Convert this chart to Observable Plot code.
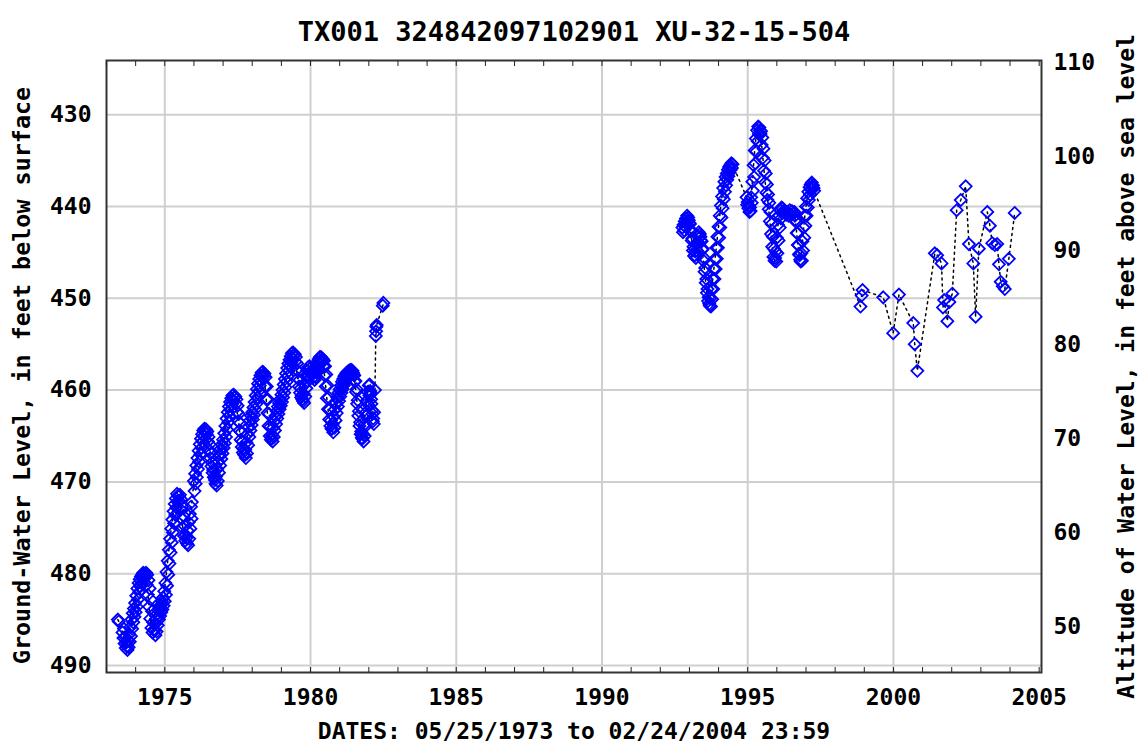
<!DOCTYPE html>
<html><head><meta charset="utf-8">
<script src="https://cdn.jsdelivr.net/npm/d3@7"></script>
<script src="https://cdn.jsdelivr.net/npm/@observablehq/plot@0.6"></script>
<style>
body{margin:0;background:#fff;}
#chart svg{display:block;}
</style></head><body><div id="chart"></div>
<script>
const titleText = "TX001 324842097102901 XU-32-15-504";
const captionText = "DATES: 05/25/1973 to 02/24/2004 23:59";
const leftLabel = "Ground-Water Level, in feet below surface";
const rightLabel = "Altitude of Water Level, in feet above sea level";
const depthTicks = [430, 440, 450, 460, 470, 480, 490];
const altitudeTicks = [50, 60, 70, 80, 90, 100, 110];
const yearLabels = [1975, 1980, 1985, 1990, 1995, 2000, 2005];
const yearGrid = [1975, 1980, 1985, 1990, 1995, 2000];
const minorYears = [1973,1974,1975,1976,1977,1978,1979,1980,1981,1982,1983,1984,1985,1986,1987,1988,1989,1990,1991,1992,1993,1994,1995,1996,1997,1998,1999,2000,2001,2002,2003,2004,2005];
// relation between the right (altitude) axis and the left (depth) axis
const altitudeRef = 110, depthAtAltitudeRef = 424.3, depthPerAltitudeFoot = 1.024;

// [decimal year, depth below surface (ft)] - main readings (joined by the dotted line)
const early = [
[1973.39,485.0],[1973.42,485.2],
[1973.55,486.4],[1973.58,487.0],[1973.62,487.6],[1973.66,488.1],[1973.70,487.9],[1973.74,487.3],[1973.78,486.6],[1973.82,485.8],[1973.86,485.0],[1973.90,484.3],[1973.94,483.8],[1973.98,483.2],
[1974.02,482.4],[1974.06,481.6],[1974.10,481.0],[1974.14,480.6],[1974.18,480.3],[1974.22,480.1],[1974.26,479.9],[1974.30,480.0],[1974.34,480.4],[1974.38,481.2],[1974.42,482.3],[1974.46,483.6],[1974.50,484.9],[1974.54,485.9],[1974.58,486.4],[1974.62,486.1],[1974.66,485.5],[1974.70,484.9],[1974.74,484.4],[1974.78,484.0],[1974.82,483.7],[1974.86,483.4],[1974.90,483.0],[1974.94,482.6],[1974.98,481.9],
[1975.02,481.0],[1975.06,479.8],[1975.10,478.6],[1975.14,477.4],[1975.18,476.2],[1975.22,475.1],[1975.26,474.1],[1975.30,473.2],[1975.34,472.4],[1975.38,471.8],[1975.42,471.3],[1975.46,471.5],[1975.50,472.1],[1975.54,473.0],[1975.58,474.0],[1975.62,475.0],[1975.66,475.9],[1975.70,476.4],[1975.74,476.1],[1975.78,475.3],[1975.82,474.4],[1975.86,473.5],[1975.90,472.7],[1975.93,472.2],
[1976.00,469.9],[1976.04,469.1],[1976.08,468.2],[1976.12,467.4],[1976.16,466.6],[1976.20,465.9],[1976.24,465.3],[1976.28,464.8],[1976.32,464.4],[1976.36,464.2],[1976.40,464.3],[1976.44,464.8],[1976.48,465.6],[1976.52,466.5],[1976.56,467.4],[1976.60,468.3],[1976.64,469.0],[1976.68,469.5],[1976.72,469.8],[1976.76,469.4],[1976.80,468.6],[1976.84,467.8],[1976.88,467.0],[1976.92,466.4],[1976.96,465.9],
[1977.00,465.4],[1977.04,464.7],[1977.08,463.9],[1977.12,463.1],[1977.16,462.4],[1977.20,461.8],[1977.24,461.3],[1977.28,460.9],[1977.32,460.6],[1977.36,460.5],[1977.40,460.8],[1977.44,461.5],[1977.48,462.4],[1977.52,463.4],[1977.56,464.4],[1977.60,465.4],[1977.64,466.2],[1977.68,466.8],[1977.72,467.0],[1977.76,466.5],[1977.80,465.7],[1977.84,464.8],[1977.88,464.0],[1977.92,463.3],[1977.96,462.8],
[1978.00,462.4],[1978.04,461.9],[1978.08,461.3],[1978.12,460.6],[1978.16,459.9],[1978.20,459.3],[1978.24,458.8],[1978.28,458.4],[1978.32,458.1],[1978.36,458.0],[1978.40,458.5],[1978.44,459.6],[1978.48,461.0],[1978.52,462.5],[1978.56,463.9],[1978.60,465.0],[1978.64,465.4],[1978.68,464.9],[1978.72,464.1],[1978.76,463.4],[1978.80,462.8],[1978.84,462.3],[1978.88,461.8],[1978.92,461.4],[1978.96,461.0],
[1979.00,460.5],[1979.04,460.0],[1979.08,459.4],[1979.12,458.8],[1979.16,458.2],[1979.20,457.6],[1979.24,457.1],[1979.28,456.7],[1979.32,456.3],[1979.36,456.0],[1979.40,455.9],[1979.44,456.2],[1979.48,456.9],[1979.52,457.8],[1979.56,458.7],[1979.60,459.6],[1979.64,460.3],[1979.68,460.8],[1979.72,461.0],[1979.76,460.4],[1979.80,459.4],[1979.84,458.5],[1979.88,457.9],[1979.92,457.5],[1979.96,457.4],
[1980.00,457.6],[1980.04,457.9],[1980.08,458.2],[1980.12,458.1],[1980.16,457.7],[1980.20,457.3],[1980.24,456.9],[1980.28,456.6],[1980.32,456.4],[1980.36,456.4],[1980.40,456.7],[1980.44,457.4],[1980.48,458.4],[1980.52,459.6],[1980.56,460.9],[1980.60,462.1],[1980.64,463.2],[1980.68,463.9],[1980.72,464.2],[1980.76,463.7],[1980.80,462.9],[1980.84,462.1],[1980.88,461.4],[1980.92,460.8],[1980.96,460.3],
[1981.00,459.9],[1981.04,459.5],[1981.08,459.1],[1981.12,458.8],[1981.16,458.5],[1981.20,458.3],[1981.24,458.1],[1981.28,458.0],[1981.32,457.9],[1981.36,457.8],[1981.40,457.8],[1981.44,457.9],[1981.48,458.3],[1981.52,459.1],[1981.56,460.2],[1981.60,461.5],[1981.64,462.8],[1981.68,463.9],[1981.72,464.8],[1981.76,465.2],[1981.80,464.8],[1981.84,463.8],[1981.88,462.5],[1981.92,461.2],[1981.96,460.2],
[1982.00,459.5],[1982.03,459.4],[1982.06,460.3],[1982.09,461.5],[1982.12,462.6],[1982.15,463.1],[1982.18,462.4],[1982.21,460.0],
[1982.24,454.1],[1982.25,453.6],[1982.26,453.1],[1982.27,452.9],
[1982.48,450.8],[1982.50,450.5]
];

// extra readings within the dense periods (pumping-affected values)
const earlyExtra = [
[1973.60,486.0],[1973.64,486.9],[1973.68,487.5],[1973.72,488.3],[1973.76,488.0],[1973.80,487.4],[1973.84,486.8],[1973.88,486.0],[1973.92,485.3],[1973.96,484.7],[1974.00,484.2],
[1974.04,483.6],[1974.08,482.8],[1974.12,482.0],[1974.16,481.4],[1974.20,481.0],[1974.24,480.6],[1974.28,480.4],[1974.32,480.2],[1974.36,479.9],[1974.40,480.1],[1974.44,480.7],[1974.48,481.6],[1974.52,482.8],[1974.56,484.1],[1974.60,485.3],[1974.64,486.2],[1974.68,486.7],[1974.72,486.3],[1974.76,485.6],[1974.80,485.0],[1974.84,484.6],[1974.88,484.2],[1974.92,483.9],[1974.96,483.5],
[1975.00,483.0],[1975.04,482.3],[1975.08,481.3],[1975.12,480.1],[1975.16,478.9],[1975.20,477.7],[1975.24,476.6],[1975.28,475.5],[1975.32,474.5],[1975.36,473.6],[1975.40,472.8],[1975.44,472.2],[1975.48,471.6],[1975.52,471.4],[1975.56,471.9],[1975.60,472.7],[1975.64,473.7],[1975.68,474.8],[1975.72,475.8],[1975.76,476.7],[1975.80,476.9],[1975.84,476.2],[1975.88,475.1],[1975.92,474.0],
[1976.02,471.0],[1976.06,470.2],[1976.10,469.5],[1976.14,468.6],[1976.18,467.8],[1976.22,467.0],[1976.26,466.3],[1976.30,465.6],[1976.34,465.0],[1976.38,464.6],[1976.42,464.3],[1976.46,464.5],[1976.50,465.1],[1976.54,465.9],[1976.58,466.9],[1976.62,467.9],[1976.66,468.7],[1976.70,469.5],[1976.74,470.2],[1976.78,470.4],[1976.82,469.9],[1976.86,469.0],[1976.90,468.2],[1976.94,467.5],[1976.98,466.9],
[1977.02,466.3],[1977.06,465.8],[1977.10,465.1],[1977.14,464.3],[1977.18,463.5],[1977.22,462.8],[1977.26,462.2],[1977.30,461.6],[1977.34,461.2],[1977.38,460.8],[1977.42,460.7],[1977.46,461.0],[1977.50,461.7],[1977.54,462.6],[1977.58,463.6],[1977.62,464.6],[1977.66,465.6],[1977.70,466.4],[1977.74,467.1],[1977.78,467.4],[1977.82,466.9],[1977.86,466.0],[1977.90,465.1],[1977.94,464.4],[1977.98,463.8],
[1978.02,463.2],[1978.06,462.7],[1978.10,462.1],[1978.14,461.5],[1978.18,460.8],[1978.22,460.1],[1978.26,459.5],[1978.30,459.0],[1978.34,458.6],[1978.38,458.3],[1978.42,458.2],[1978.46,458.6],[1978.50,459.6],[1978.54,461.0],[1978.58,462.6],[1978.62,464.0],[1978.66,465.2],[1978.70,465.6],[1978.74,465.1],[1978.78,464.4],[1978.82,463.7],[1978.86,463.1],[1978.90,462.6],[1978.94,462.1],[1978.98,461.7],
[1979.02,461.3],[1979.06,460.8],[1979.10,460.3],[1979.14,459.7],[1979.18,459.1],[1979.22,458.5],[1979.26,457.9],[1979.30,457.4],[1979.34,457.0],[1979.38,456.6],[1979.42,456.3],[1979.46,456.1],[1979.50,456.4],[1979.54,457.1],[1979.58,458.0],[1979.62,458.9],[1979.66,459.8],[1979.70,460.6],[1979.74,461.2],[1979.78,461.4],[1979.82,460.7],[1979.86,459.8],[1979.90,459.0],[1979.94,458.4],[1979.98,458.1],
[1980.02,458.1],[1980.06,458.3],[1980.10,458.6],[1980.14,458.9],[1980.18,458.6],[1980.22,458.1],[1980.26,457.6],[1980.30,457.2],[1980.34,456.9],[1980.38,456.7],[1980.42,456.6],[1980.46,456.8],[1980.50,457.4],[1980.54,458.3],[1980.58,459.5],[1980.62,460.8],[1980.66,462.1],[1980.70,463.3],[1980.74,464.2],[1980.78,464.6],[1980.82,464.1],[1980.86,463.3],[1980.90,462.5],[1980.94,461.8],[1980.98,461.2],
[1981.02,460.7],[1981.06,460.3],[1981.10,459.9],[1981.14,459.5],[1981.18,459.2],[1981.22,458.9],[1981.26,458.7],[1981.30,458.5],[1981.34,458.3],[1981.38,458.2],[1981.42,458.1],[1981.46,458.1],[1981.50,458.4],[1981.54,459.0],[1981.58,459.9],[1981.62,461.1],[1981.66,462.3],[1981.70,463.5],[1981.74,464.5],[1981.78,465.3],[1981.82,465.6],[1981.86,465.0],[1981.90,463.9],[1981.94,462.7],[1981.98,461.6],
[1982.02,460.6],[1982.05,460.1],[1982.08,461.0],[1982.11,462.2],[1982.14,463.4],[1982.17,463.7]
];

const later = [
[1992.76,442.3],[1992.80,442.0],[1992.84,441.6],[1992.88,441.3],[1992.92,441.0],[1992.96,441.2],[1993.00,441.8],[1993.04,442.7],[1993.08,443.7],[1993.12,444.8],[1993.16,445.4],[1993.20,444.9],[1993.24,444.0],[1993.28,443.2],[1993.32,442.8],[1993.36,443.0],[1993.40,443.7],[1993.44,444.7],[1993.48,445.9],[1993.52,447.1],[1993.56,448.3],[1993.60,449.4],[1993.64,450.3],[1993.68,450.6],[1993.72,450.0],[1993.76,449.0],[1993.80,447.9],[1993.84,446.8],[1993.88,445.7],[1993.92,444.5],[1993.96,443.3],
[1994.00,442.2],[1994.04,441.0],[1994.08,439.9],[1994.12,438.9],[1994.16,438.0],[1994.20,437.3],[1994.24,436.8],[1994.28,436.4],[1994.32,436.0],[1994.36,435.7],[1994.40,435.5],[1994.44,435.3],[1994.48,435.4],
[1994.96,439.0],[1995.00,439.5],[1995.04,439.9],[1995.08,440.1],[1995.12,439.0],[1995.16,437.3],[1995.20,435.5],[1995.24,433.9],[1995.28,432.6],[1995.32,431.7],[1995.36,431.3],[1995.40,431.4],[1995.44,432.1],[1995.48,433.3],[1995.52,434.7],[1995.56,436.1],[1995.60,437.4],[1995.64,438.5],[1995.68,439.3],[1995.72,440.3],[1995.76,441.6],[1995.80,443.0],[1995.84,444.4],[1995.88,445.5],[1995.92,445.9],[1995.96,444.9],
[1996.00,443.4],[1996.04,442.0],[1996.08,441.0],[1996.12,440.4],[1996.16,440.1],[1996.20,440.2],[1996.24,440.5],[1996.28,440.7],[1996.36,440.6],[1996.44,440.4],[1996.52,440.5],
[1996.60,440.6],[1996.64,441.5],[1996.68,442.9],[1996.72,444.2],[1996.76,445.2],[1996.80,445.8],[1996.84,445.1],[1996.88,443.8],[1996.92,442.3],[1996.96,441.0],
[1997.00,440.0],[1997.04,439.1],[1997.08,438.4],[1997.12,437.9],[1997.16,437.6],[1997.20,437.4],[1997.24,437.7],[1997.28,438.3],
[1998.87,450.9],[1998.91,449.7],[1998.94,449.1],[1999.65,449.9],[1999.99,453.8],[2000.19,449.6],[2000.68,452.7],[2000.73,455.0],[2000.82,457.9],
[2001.42,445.1],[2001.50,445.3],[2001.65,446.2],[2001.70,451.0],[2001.74,450.2],[2001.85,452.5],[2001.92,450.4],[2002.02,449.5],[2002.17,440.4],[2002.31,439.3],[2002.48,437.8],[2002.59,444.1],[2002.74,446.2],[2002.82,452.0],[2002.93,444.6],
[2003.22,440.6],[2003.31,442.1],[2003.39,444.0],[2003.48,444.2],[2003.56,444.1],[2003.62,446.3],[2003.68,448.2],[2003.75,448.7],[2003.82,449.0],[2003.96,445.7],[2004.16,440.7]
];

const laterExtra = [
[1992.78,442.8],[1992.82,442.6],[1992.86,442.2],[1992.90,441.9],[1992.94,441.6],[1992.98,441.5],[1993.02,441.9],[1993.06,442.6],[1993.10,443.5],[1993.14,444.4],[1993.18,445.3],[1993.22,445.6],[1993.26,444.8],[1993.30,443.9],[1993.34,443.4],[1993.38,443.3],[1993.42,443.8],[1993.46,444.6],[1993.50,445.6],[1993.54,446.7],[1993.58,447.9],[1993.62,449.0],[1993.66,449.9],[1993.70,450.8],[1993.74,450.9],[1993.78,450.1],[1993.82,449.0],[1993.86,447.9],[1993.90,446.8],[1993.94,445.7],[1993.98,444.5],
[1994.02,443.4],[1994.06,442.3],[1994.10,441.2],[1994.14,440.2],[1994.18,439.2],[1994.22,438.4],[1994.26,437.7],[1994.30,437.1],[1994.34,436.7],[1994.38,436.3],[1994.42,436.0],[1994.46,435.8],
[1994.98,439.8],[1995.02,440.2],[1995.06,440.6],[1995.10,440.5],[1995.14,439.6],[1995.18,438.3],[1995.22,436.8],[1995.26,435.3],[1995.30,434.0],[1995.34,432.9],[1995.38,432.1],[1995.42,431.7],[1995.46,431.8],[1995.50,432.5],[1995.54,433.7],[1995.58,435.0],[1995.62,436.4],[1995.66,437.6],[1995.70,438.7],[1995.74,439.6],[1995.78,440.6],[1995.82,441.9],[1995.86,443.3],[1995.90,444.6],[1995.94,445.6],[1995.98,446.0],
[1996.02,445.1],[1996.06,443.7],[1996.10,442.3],[1996.14,441.3],[1996.18,440.7],[1996.22,440.5],[1996.26,440.6],[1996.32,440.9],[1996.40,441.0],[1996.48,440.9],[1996.56,440.8],
[1996.62,441.0],[1996.66,441.7],[1996.70,442.9],[1996.74,444.2],[1996.78,445.3],[1996.82,446.0],[1996.86,445.9],[1996.90,444.8],[1996.94,443.4],[1996.98,442.1],
[1997.02,441.0],[1997.06,440.1],[1997.10,439.3],[1997.14,438.7],[1997.18,438.2],[1997.22,437.9],[1997.26,438.0]
];

const toRows = (arr, seg) => arr.map(([t, d]) => ({t, d, seg}));
const lineRows = [...toRows(early, "early"), ...toRows(later, "later")];
const dotRows = [...lineRows, ...toRows(earlyExtra, "early"), ...toRows(laterExtra, "later")];
const altToDepth = a => depthAtAltitudeRef + (altitudeRef - a) * depthPerAltitudeFoot;
const depthToAlt = d => altitudeRef - (d - depthAtAltitudeRef) / depthPerAltitudeFoot;

const FONT = "'DejaVu Sans Mono', 'Liberation Mono', monospace";

const chart = Plot.plot({
  width: 1143,
  height: 755,
  marginLeft: 106,
  marginRight: 102,
  marginTop: 60,
  marginBottom: 83,
  style: {fontFamily: FONT, fontSize: "23px", fontWeight: "bold", color: "#000", background: "#fff"},
  x: {type: "linear", domain: [1973, 2005.08]},
  y: {type: "linear", domain: [490.76, 424.1]},
  marks: [
    Plot.gridY(depthTicks, {stroke: "#cfcfcf", strokeWidth: 2, strokeOpacity: 1}),
    Plot.gridX(yearGrid, {stroke: "#cfcfcf", strokeWidth: 2, strokeOpacity: 1}),
    Plot.line(lineRows, {x: "t", y: "d", z: "seg", stroke: "#000", strokeWidth: 1.5, strokeDasharray: "2,4"}),
    Plot.dot(dotRows, {x: "t", y: "d", symbol: "diamond2", r: 5.4, stroke: "#0000ff", strokeWidth: 1.8, fill: "none"}),
    Plot.frame({stroke: "#333", strokeWidth: 2}),
    Plot.axisX(minorYears, {anchor: "bottom", tickSize: -5, tickFormat: () => "", label: null, stroke: "#222"}),
    Plot.axisX(minorYears, {anchor: "top", tickSize: -5, tickFormat: () => "", label: null, stroke: "#222"}),
    Plot.axisX(yearLabels, {anchor: "bottom", tickSize: 0, tickPadding: 16, tickFormat: d => String(d), label: null}),
    Plot.axisY(depthTicks, {anchor: "left", tickSize: 0, tickPadding: 15, tickFormat: d => String(d), label: null}),
    Plot.axisY(altitudeTicks.map(altToDepth), {anchor: "right", tickSize: 0, tickPadding: 12, tickFormat: d => String(Math.round(depthToAlt(d))), label: rightLabel, labelAnchor: "center", labelOffset: 92, labelArrow: "none"}),
    Plot.text([leftLabel], {frameAnchor: "left", textAnchor: "middle", dx: -84, dy: 9, rotate: -90, text: d => d, fontSize: 23.4, fontWeight: "bold", fontFamily: FONT}),
    Plot.text([titleText], {frameAnchor: "top", dy: -39, text: d => d, fontSize: 27, fontWeight: "bold", fontFamily: FONT}),
    Plot.text([captionText], {frameAnchor: "bottom", dy: 66, text: d => d, fontSize: 23, fontWeight: "bold", fontFamily: FONT})
  ]
});
document.getElementById("chart").appendChild(chart);
</script>
</body></html>
